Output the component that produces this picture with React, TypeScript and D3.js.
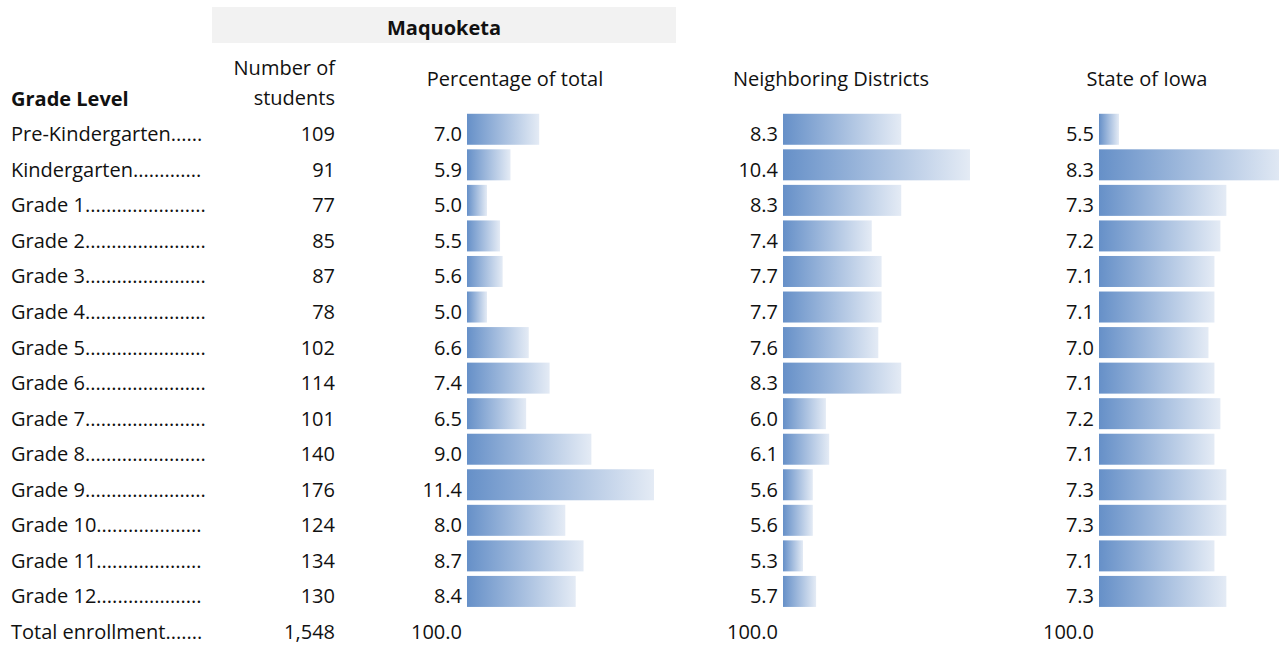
import * as d3 from "d3";

const grades = [
  "Pre-Kindergarten",
  "Kindergarten",
  "Grade 1",
  "Grade 2",
  "Grade 3",
  "Grade 4",
  "Grade 5",
  "Grade 6",
  "Grade 7",
  "Grade 8",
  "Grade 9",
  "Grade 10",
  "Grade 11",
  "Grade 12",
];
const students = [109, 91, 77, 85, 87, 78, 102, 114, 101, 140, 176, 124, 134, 130];
const pctTotal = [7.0, 5.9, 5.0, 5.5, 5.6, 5.0, 6.6, 7.4, 6.5, 9.0, 11.4, 8.0, 8.7, 8.4];
const neighboring = [8.3, 10.4, 8.3, 7.4, 7.7, 7.7, 7.6, 8.3, 6.0, 6.1, 5.6, 5.6, 5.3, 5.7];
const stateIowa = [5.5, 8.3, 7.3, 7.2, 7.1, 7.1, 7.0, 7.1, 7.2, 7.1, 7.3, 7.3, 7.1, 7.3];
const totalLabel = "Total enrollment";
const totalStudents = "1,548";
const totalPct = "100.0";
const columnTitles = ["Percentage of total", "Neighboring Districts", "State of Iowa"];

const W = 1279;
const H = 647;
const FONT = "'Open Sans', 'Noto Sans', sans-serif";
const FS = 20;
const LABEL_END = 206;

const rows = [...grades, totalLabel];

// pad a label with leader dots up to the end of the label column
function withLeaders(label: string): string {
  const ctx = document.createElement("canvas").getContext("2d");
  if (!ctx) return label + "......";
  ctx.font = `${FS}px 'Open Sans'`;
  let s = label;
  while (ctx.measureText(s + ".").width <= LABEL_END - 11) s += ".";
  return s;
}

export default function App() {
  const y = d3
    .scaleBand<string>()
    .domain(rows)
    .range([116, 116 + rows.length * 35.55]);
  const cy = (r: string) => (y(r) ?? 0) + y.bandwidth() / 2;
  const base = (r: string) => cy(r) + 7.5;

  const series = [pctTotal, neighboring, stateIowa];
  const colX = d3.scaleOrdinal<number, number>().domain([0, 1, 2]).range([467, 783, 1099]);

  return (
    <svg
      width={W}
      height={H}
      style={{ position: "absolute", left: 0, top: 0, background: "#fff" }}
      fontFamily={FONT}
      fontSize={FS}
      fill="#111"
    >
      <defs>
        <linearGradient id="barGrad" x1="0" x2="1" y1="0" y2="0">
          <stop offset="0" stopColor="#6690C8" />
          <stop offset="1" stopColor="#E4EBF5" />
        </linearGradient>
      </defs>

      {/* header */}
      <rect x={212} y={7} width={464} height={36} fill="#F2F2F2" />
      <text x={444} y={35} textAnchor="middle" fontWeight="bold">
        Maquoketa
      </text>
      <text x={335} y={75} textAnchor="end">Number of</text>
      <text x={335} y={105} textAnchor="end">students</text>
      <text x={11} y={106} fontWeight="bold">Grade Level</text>
      {columnTitles.map((t, i) => (
        <text key={t} x={colX(i) + 48} y={86} textAnchor="middle">
          {t}
        </text>
      ))}

      {/* rows */}
      {rows.map((r) => (
        <text key={r} x={11} y={base(r)}>
          {withLeaders(r)}
        </text>
      ))}
      {grades.map((g, i) => (
        <text key={g} x={335} y={base(g)} textAnchor="end">
          {students[i]}
        </text>
      ))}
      <text x={335} y={base(totalLabel)} textAnchor="end">
        {totalStudents}
      </text>

      {series.map((vals, s) => {
        const x0 = colX(s);
        const w = d3
          .scaleLinear()
          .domain([d3.min(vals) ?? 0, d3.max(vals) ?? 1])
          .range([20, 187]);
        return (
          <g key={s}>
            {grades.map((g, i) => (
              <g key={g}>
                <rect
                  x={x0}
                  y={cy(g) - 20}
                  width={w(vals[i])}
                  height={31}
                  fill="url(#barGrad)"
                />
                <text x={x0 - 5} y={base(g)} textAnchor="end">
                  {vals[i].toFixed(1)}
                </text>
              </g>
            ))}
            <text x={x0 - 5} y={base(totalLabel)} textAnchor="end">
              {totalPct}
            </text>
          </g>
        );
      })}
    </svg>
  );
}
